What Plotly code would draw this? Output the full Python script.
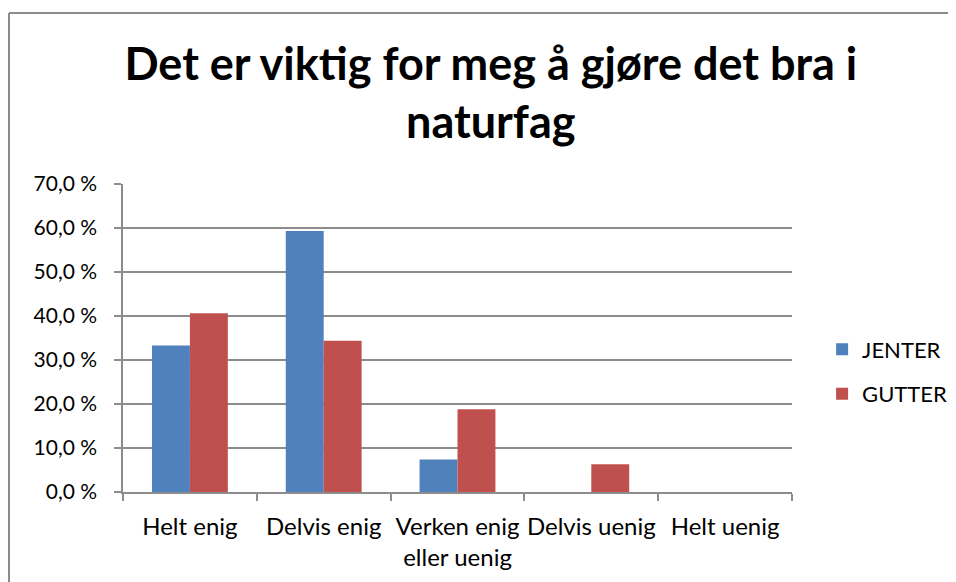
import plotly.graph_objects as go

categories = ["Helt enig", "Delvis enig", "Verken enig<br>eller uenig", "Delvis uenig", "Helt uenig"]
jenter = [33.3, 59.3, 7.4, 0.0, 0.0]
gutter = [40.6, 34.4, 18.8, 6.3, 0.0]
y_ticks = [0, 10, 20, 30, 40, 50, 60, 70]
y_labels = ["0,0 %", "10,0 %", "20,0 %", "30,0 %", "40,0 %", "50,0 %", "60,0 %", "70,0 %"]

font_family = "Lato, 'Open Sans', sans-serif"
grid = "#8c8c8c"

fig = go.Figure()
fig.add_trace(go.Bar(x=categories, y=jenter, name="JENTER", marker_color="#4F81BD",
                     marker_line_width=0, legendgroup="a"))
fig.add_trace(go.Bar(x=categories, y=gutter, name="GUTTER", marker_color="#C0504D",
                     marker_line_width=0, legendgroup="b"))

# page body adds an 8px offset, so margins are shifted by that amount
frame_x = (1 - 115) / 669
frame_y = (484 - 5) / 308
fig.update_layout(
    width=956, height=582,
    margin=dict(l=115, r=164, t=176, b=98),
    paper_bgcolor="white", plot_bgcolor="white",
    font=dict(family=font_family, size=21, color="black"),
    title=dict(text="<b>Det er viktig for meg å gjøre det bra i<br>naturfag</b>",
               x=0.505, xanchor="center", y=0.877, yanchor="middle",
               font=dict(size=45, family=font_family, color="black")),
    barmode="group", bargap=0.433, bargroupgap=0,
    legend=dict(x=1.045, y=0.39, xanchor="left", yanchor="middle",
                font=dict(size=22), tracegroupgap=13, bgcolor="rgba(0,0,0,0)"),
    shapes=[
        dict(type="line", xref="paper", yref="paper", x0=frame_x, x1=frame_x,
             y0=-0.5, y1=frame_y, line=dict(color=grid, width=2), layer="below"),
        dict(type="line", xref="paper", yref="paper", x0=frame_x, x1=1.5,
             y0=frame_y, y1=frame_y, line=dict(color=grid, width=2), layer="below"),
    ],
)
fig.update_yaxes(range=[0, 70], tickvals=y_ticks, ticktext=y_labels,
                 showgrid=True, gridcolor=grid, gridwidth=1.5,
                 showline=True, linecolor=grid, linewidth=1.5,
                 ticks="outside", ticklen=7, tickcolor=grid, tickwidth=1.5,
                 ticklabelstandoff=13, zeroline=False)
fig.update_xaxes(showline=True, linecolor=grid, linewidth=1.5,
                 ticks="outside", ticklen=7, tickcolor=grid, tickwidth=1.5,
                 tickson="boundaries", tickangle=0, ticklabelstandoff=12,
                 tickfont=dict(size=24))

fig.write_html("out.html", config={"displayModeBar": False})
